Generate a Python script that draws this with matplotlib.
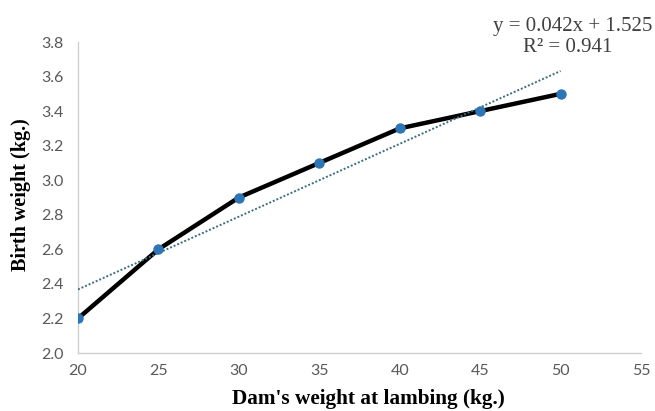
import matplotlib
matplotlib.use("Agg")
import matplotlib.pyplot as plt
import numpy as np

# dam weight at lambing (kg) vs birth weight (kg)
dam_weight = [20, 25, 30, 35, 40, 45, 50]
birth_weight = [2.2, 2.6, 2.9, 3.1, 3.3, 3.4, 3.5]
x_ticks = [20, 25, 30, 35, 40, 45, 50, 55]
y_ticks = [2.0, 2.2, 2.4, 2.6, 2.8, 3.0, 3.2, 3.4, 3.6, 3.8]
eq_text = "y = 0.042x + 1.525"
r2_text = "R² = 0.941"

# linear trend line like the spreadsheet one
slope, intercept = np.polyfit(dam_weight, birth_weight, 1)

fig = plt.figure(figsize=(6.55, 4.11), dpi=100)
ax = fig.add_axes([0.1191, 0.1411, 0.8595, 0.7567])

ax.plot(dam_weight, birth_weight, color='black', linewidth=3.2, solid_capstyle='round', zorder=2)
ax.plot(dam_weight, birth_weight, linestyle='none', marker='o', markersize=6.5,
        color='#2E75B6', zorder=4)
ends = [dam_weight[0], dam_weight[-1]]
ax.plot(ends, np.polyval([slope, intercept], ends),
        linestyle=(0, (1, 1)), color='#3B6E80', linewidth=1.4, zorder=3)

ax.set_xlim(20, 55)
ax.set_ylim(2.0, 3.8)
ax.set_xticks(x_ticks)
ax.set_yticks(y_ticks)
ax.set_yticklabels(['%.1f' % v for v in y_ticks])
ax.tick_params(length=0, labelsize=11.5, labelcolor='#595959')
ax.tick_params(axis='y', pad=10.5)
ax.tick_params(axis='x', pad=8)
for lab in ax.get_xticklabels() + ax.get_yticklabels():
    lab.set_family('Lato')

for s in ['top', 'right']:
    ax.spines[s].set_visible(False)
for s in ['left', 'bottom']:
    ax.spines[s].set_color('#D0D0D0')
    ax.spines[s].set_linewidth(1.0)

fig.text(368 / 655, 1 - 399 / 411, "Dam's weight at lambing (kg.)", ha='center', va='center',
         family='Liberation Serif', fontweight='bold', fontsize=15.3)
fig.text(21 / 655, 1 - 195 / 411, "Birth weight (kg.)", ha='center', va='center', rotation=90,
         family='Liberation Serif', fontweight='bold', fontsize=14.5)

fig.text(573 / 655, 1 - 26 / 411, eq_text, ha='center', va='center',
         family='Liberation Serif', fontsize=15, color='#404040')
fig.text(568 / 655, 1 - 48 / 411, r2_text, ha='center', va='center',
         family='Liberation Serif', fontsize=15, color='#404040')

fig.savefig('out.png', dpi=100)
